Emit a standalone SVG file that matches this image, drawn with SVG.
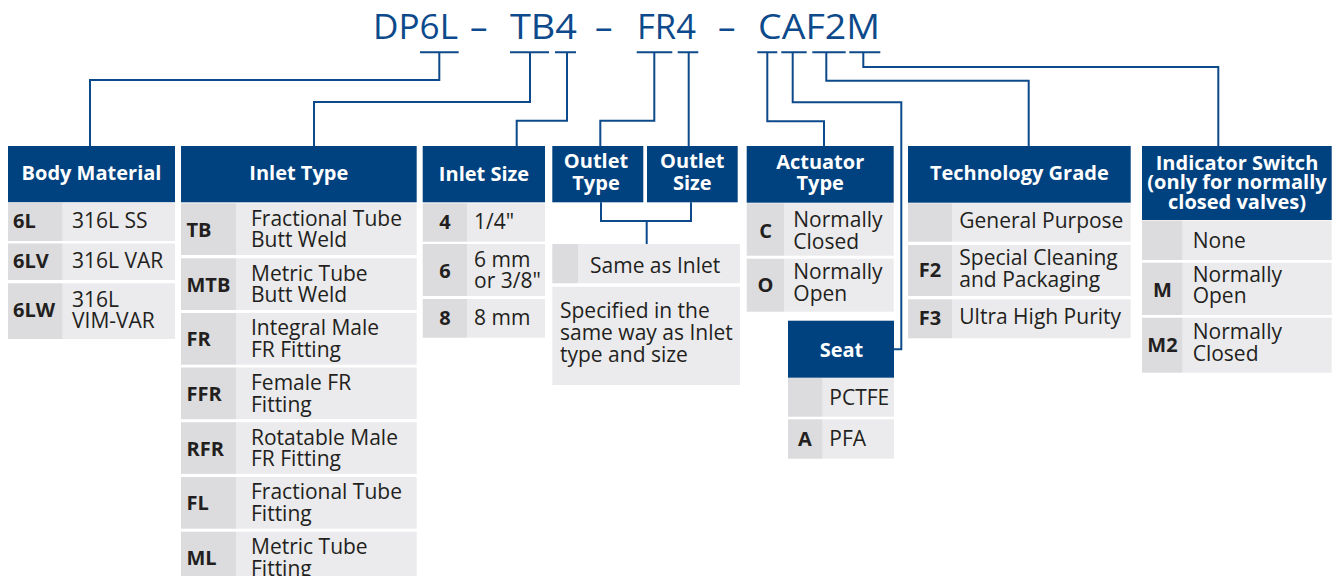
<svg xmlns="http://www.w3.org/2000/svg" width="1340" height="576" viewBox="0 0 1340 576">
<style>
text{font-family:"Open Sans","Noto Sans","DejaVu Sans",sans-serif}
.hd{fill:#00427f}
.ht{font-weight:700;font-size:20px;fill:#fff;text-anchor:middle}
.cc{fill:#dcdcde}
.dc{fill:#ebebed}
.code{font-weight:700;font-size:20px;fill:#231f20}
.cm{text-anchor:middle}
.t{font-size:21px;fill:#231f20}
.top{font-size:35px;fill:#0d4a8b}
.conn path{stroke:#0d4a8b;stroke-width:2;fill:none}
</style>
<rect width="1340" height="576" fill="#fff"/>
<g id="code-title">
<text class="top" x="373" y="39" textLength="85" lengthAdjust="spacingAndGlyphs">DP6L</text>
<text class="top" x="470" y="39">–</text>
<text class="top" x="510" y="39" textLength="67" lengthAdjust="spacingAndGlyphs">TB4</text>
<text class="top" x="595" y="39">–</text>
<text class="top" x="637" y="39" textLength="59" lengthAdjust="spacingAndGlyphs">FR4</text>
<text class="top" x="718" y="39">–</text>
<text class="top" x="758" y="39" textLength="122" lengthAdjust="spacingAndGlyphs">CAF2M</text>
</g>
<g id="connectors" class="conn">
<path d="M420,52.3H458.7M510,52.3H549M555,52.3H576M636.7,52.3H672.3M677.7,52.3H698.3M757.3,52.3H777.3M781.3,52.3H806.7M812.3,52.3H845.7M849.3,52.3H880.3"/>
<path d="M439.3,52.3V80H90V146"/>
<path d="M530,52.3V102H314V146"/>
<path d="M567,52.3V120.7H516.7V146"/>
<path d="M654.3,52.3V120.7H600.3V146"/>
<path d="M688.7,52.3V146"/>
<path d="M767.3,52.3V121.3H824V146"/>
<path d="M792.7,52.3V102.3H901.3V349.3H894"/>
<path d="M826.3,52.3V80.7H1028.7V146"/>
<path d="M863.3,52.3V67H1218.3V146"/>
<path d="M601,202.3V221H691V202.3M646.7,221V244"/>
</g>
<g id="body-material">
<rect class="hd" x="8" y="146" width="167" height="56.3"/>
<text class="ht" x="91.5" y="179.5">Body Material</text>
<rect class="cc" x="8" y="202.5" width="54.7" height="38.5"/><rect class="dc" x="62.7" y="202.5" width="112.3" height="38.5"/>
<text class="code" x="13" y="228.3">6L</text><text class="t" x="72" y="228.3">316L SS</text>
<rect class="cc" x="8" y="243.5" width="54.7" height="36.5"/><rect class="dc" x="62.7" y="243.5" width="112.3" height="36.5"/>
<text class="code" x="13" y="268.3">6LV</text><text class="t" x="72" y="268.3">316L VAR</text>
<rect class="cc" x="8" y="283.3" width="54.7" height="55.7"/><rect class="dc" x="62.7" y="283.3" width="112.3" height="55.7"/>
<text class="code" x="13" y="317.3">6LW</text><text class="t" x="72" y="306.7">316L</text><text class="t" x="72" y="328.3">VIM-VAR</text>
</g>
<g id="inlet-type">
<rect class="hd" x="181" y="146" width="235.7" height="56.3"/>
<text class="ht" x="298.8" y="179.5">Inlet Type</text>
<rect class="cc" x="181" y="203.3" width="55" height="51.7"/><rect class="dc" x="236" y="203.3" width="180.7" height="51.7"/>
<text class="code" x="186.5" y="236.7">TB</text><text class="t" x="251" y="225.7">Fractional Tube</text><text class="t" x="251" y="247.3">Butt Weld</text>
<rect class="cc" x="181" y="258.3" width="55" height="51.7"/><rect class="dc" x="236" y="258.3" width="180.7" height="51.7"/>
<text class="code" x="186.5" y="291.7">MTB</text><text class="t" x="251" y="280.7">Metric Tube</text><text class="t" x="251" y="302.3">Butt Weld</text>
<rect class="cc" x="181" y="313" width="55" height="51.7"/><rect class="dc" x="236" y="313" width="180.7" height="51.7"/>
<text class="code" x="186.5" y="346.4">FR</text><text class="t" x="251" y="335.4">Integral Male</text><text class="t" x="251" y="357">FR Fitting</text>
<rect class="cc" x="181" y="367.5" width="55" height="51.7"/><rect class="dc" x="236" y="367.5" width="180.7" height="51.7"/>
<text class="code" x="186.5" y="400.9">FFR</text><text class="t" x="251" y="389.9">Female FR</text><text class="t" x="251" y="411.5">Fitting</text>
<rect class="cc" x="181" y="422.2" width="55" height="51.7"/><rect class="dc" x="236" y="422.2" width="180.7" height="51.7"/>
<text class="code" x="186.5" y="455.6">RFR</text><text class="t" x="251" y="444.6">Rotatable Male</text><text class="t" x="251" y="466.2">FR Fitting</text>
<rect class="cc" x="181" y="477" width="55" height="51.7"/><rect class="dc" x="236" y="477" width="180.7" height="51.7"/>
<text class="code" x="186.5" y="510.4">FL</text><text class="t" x="251" y="499.4">Fractional Tube</text><text class="t" x="251" y="521">Fitting</text>
<rect class="cc" x="181" y="531.7" width="55" height="51.7"/><rect class="dc" x="236" y="531.7" width="180.7" height="51.7"/>
<text class="code" x="186.5" y="565.1">ML</text><text class="t" x="251" y="554.1">Metric Tube</text><text class="t" x="251" y="575.7">Fitting</text>
</g>
<g id="inlet-size">
<rect class="hd" x="422.7" y="146" width="122.3" height="56.3"/>
<text class="ht" x="484" y="180.5">Inlet Size</text>
<rect class="cc" x="422.7" y="203.3" width="44.3" height="38.4"/><rect class="dc" x="467" y="203.3" width="78" height="38.4"/>
<text class="code cm" x="445" y="229.3">4</text><text class="t" x="474" y="229.3">1/4"</text>
<rect class="cc" x="422.7" y="244" width="44.3" height="52"/><rect class="dc" x="467" y="244" width="78" height="52"/>
<text class="code cm" x="445" y="278.3">6</text><text class="t" x="474" y="266.7">6 mm</text><text class="t" x="474" y="288.3">or 3/8"</text>
<rect class="cc" x="422.7" y="299" width="44.3" height="38.7"/><rect class="dc" x="467" y="299" width="78" height="38.7"/>
<text class="code cm" x="445" y="325">8</text><text class="t" x="474" y="325">8 mm</text>
</g>
<g id="outlet-type">
<rect class="hd" x="552.3" y="146" width="91" height="56.3"/>
<text class="ht" x="596" y="167.5">Outlet</text><text class="ht" x="596" y="190">Type</text>
</g>
<g id="outlet-size">
<rect class="hd" x="647" y="146" width="90.7" height="56.3"/>
<text class="ht" x="692.3" y="167.5">Outlet</text><text class="ht" x="692.3" y="190">Size</text>
</g>
<g id="outlet-options">
<rect class="cc" x="552.3" y="244" width="25.7" height="39.3"/><rect class="dc" x="578" y="244" width="162" height="39.3"/>
<text class="t" x="590" y="273.3">Same as Inlet</text>
<rect class="dc" x="552.3" y="286.7" width="187.7" height="98.3"/>
<text class="t" x="560" y="318.3">Specified in the</text><text class="t" x="560" y="340">same way as Inlet</text><text class="t" x="560" y="361.7">type and size</text>
</g>
<g id="actuator-type">
<rect class="hd" x="746.7" y="146" width="147" height="56.7"/>
<text class="ht" x="820.2" y="169.3">Actuator</text><text class="ht" x="820.2" y="189.5">Type</text>
<rect class="cc" x="746.7" y="203.3" width="37.3" height="52.4"/><rect class="dc" x="784" y="203.3" width="109.7" height="52.4"/>
<text class="code cm" x="765.5" y="238.3">C</text><text class="t" x="793.3" y="227.3">Normally</text><text class="t" x="793.3" y="248.5">Closed</text>
<rect class="cc" x="746.7" y="258.7" width="37.3" height="53"/><rect class="dc" x="784" y="258.7" width="109.7" height="53"/>
<text class="code cm" x="765.5" y="291.7">O</text><text class="t" x="793.3" y="279.3">Normally</text><text class="t" x="793.3" y="300.7">Open</text>
</g>
<g id="seat">
<rect class="hd" x="788" y="320.7" width="106" height="57"/>
<text class="ht" x="841.5" y="356.7">Seat</text>
<rect class="cc" x="788" y="378" width="34.7" height="38.7"/><rect class="dc" x="822.7" y="378" width="71.3" height="38.7"/>
<text class="t" x="829.3" y="405">PCTFE</text>
<rect class="cc" x="788" y="419.3" width="34.7" height="39.4"/><rect class="dc" x="822.7" y="419.3" width="71.3" height="39.4"/>
<text class="code cm" x="805" y="445.7">A</text><text class="t" x="829.3" y="445.7">PFA</text>
</g>
<g id="technology-grade">
<rect class="hd" x="908" y="146" width="222.7" height="56.7"/>
<text class="ht" x="1019.3" y="179.5">Technology Grade</text>
<rect class="cc" x="908" y="203.3" width="44" height="38.4"/><rect class="dc" x="952" y="203.3" width="178.7" height="38.4"/>
<text class="t" x="959.3" y="228.3">General Purpose</text>
<rect class="cc" x="908" y="245" width="44" height="51"/><rect class="dc" x="952" y="245" width="178.7" height="51"/>
<text class="code cm" x="930" y="277.3">F2</text><text class="t" x="959.3" y="265">Special Cleaning</text><text class="t" x="959.3" y="286.7">and Packaging</text>
<rect class="cc" x="908" y="299.3" width="44" height="39"/><rect class="dc" x="952" y="299.3" width="178.7" height="39"/>
<text class="code cm" x="930" y="325">F3</text><text class="t" x="959.3" y="324">Ultra High Purity</text>
</g>
<g id="indicator-switch">
<rect class="hd" x="1142" y="146" width="189.7" height="74"/>
<text class="ht" x="1237" y="170">Indicator Switch</text><text class="ht" x="1237" y="189.3">(only for normally</text><text class="ht" x="1237" y="208.6">closed valves)</text>
<rect class="cc" x="1142" y="220.5" width="40.7" height="39.5"/><rect class="dc" x="1182.7" y="220.5" width="149" height="39.5"/>
<text class="t" x="1192.7" y="248.3">None</text>
<rect class="cc" x="1142" y="262.7" width="40.7" height="52.3"/><rect class="dc" x="1182.7" y="262.7" width="149" height="52.3"/>
<text class="code cm" x="1162.5" y="296.7">M</text><text class="t" x="1192.7" y="281.7">Normally</text><text class="t" x="1192.7" y="303.3">Open</text>
<rect class="cc" x="1142" y="317.7" width="40.7" height="55"/><rect class="dc" x="1182.7" y="317.7" width="149" height="55"/>
<text class="code cm" x="1162.5" y="351.7">M2</text><text class="t" x="1192.7" y="339">Normally</text><text class="t" x="1192.7" y="361">Closed</text>
</g>
</svg>
